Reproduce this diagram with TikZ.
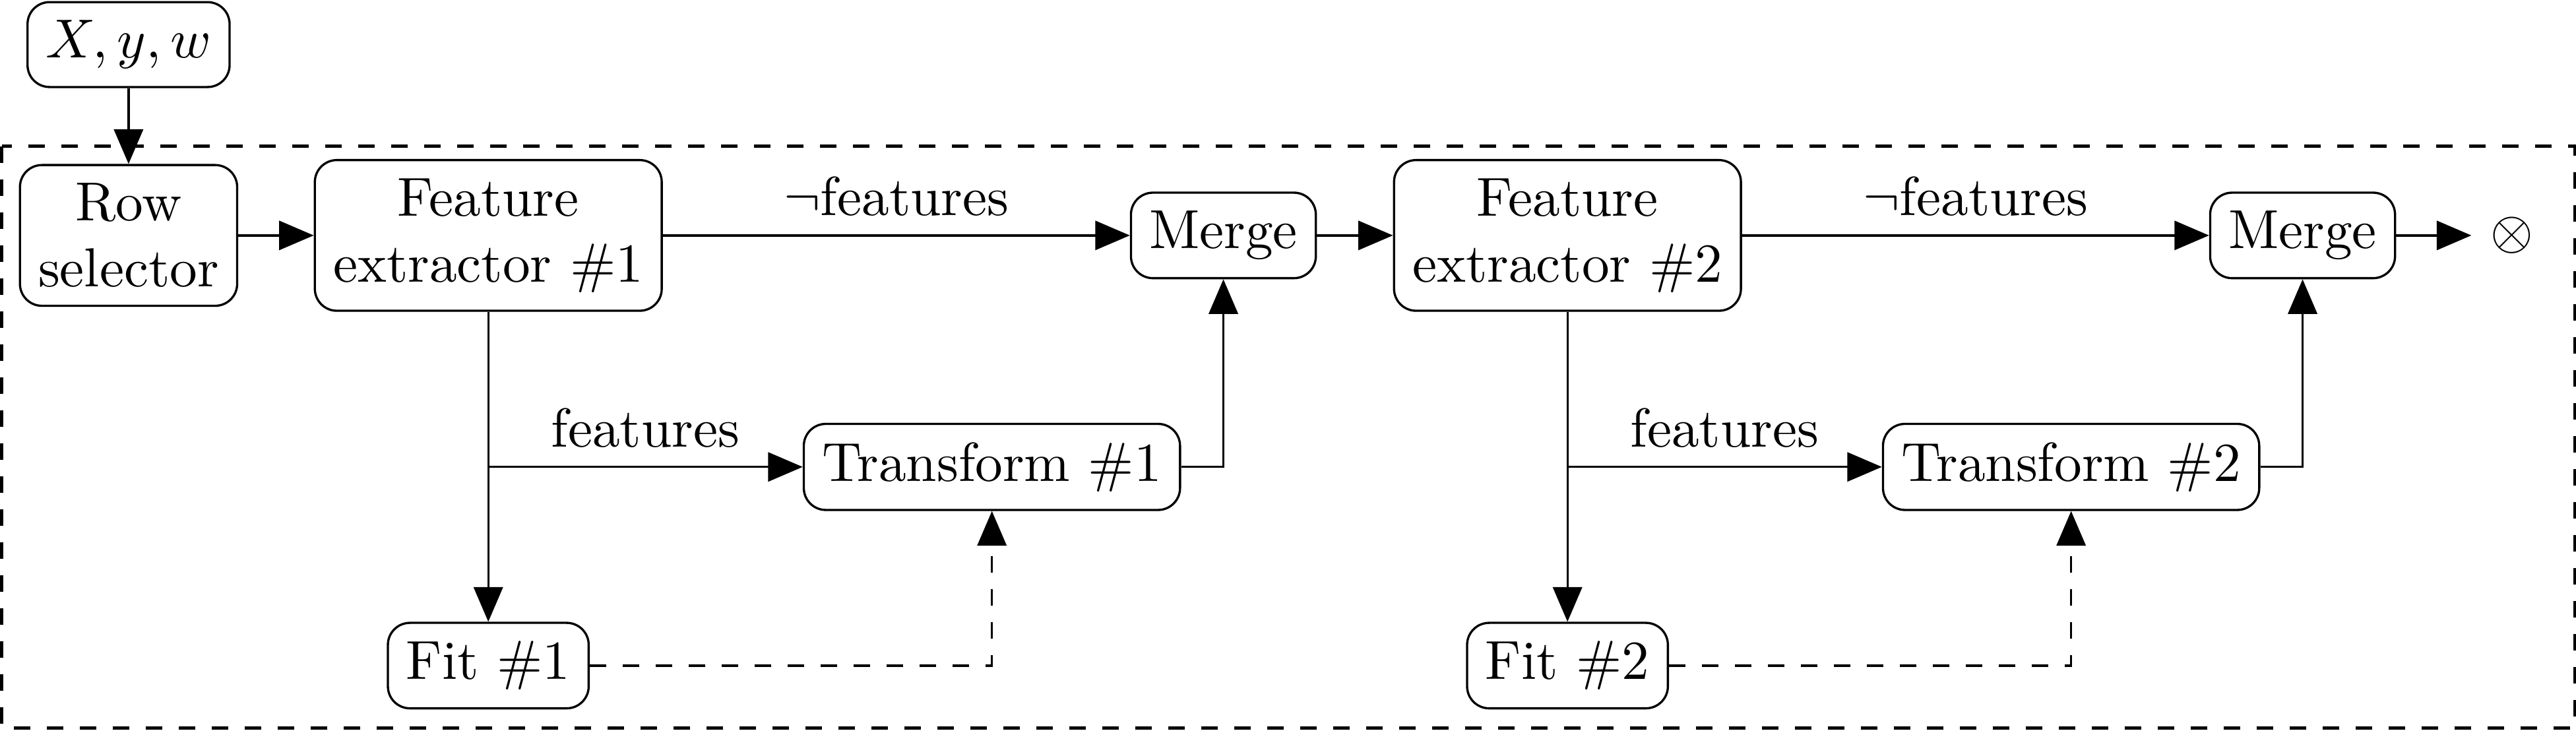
\documentclass[tikz,border=0pt]{standalone}
\usepackage{amsmath}
\usepackage{amssymb}
\usetikzlibrary{arrows.meta}

\tikzset{block/.style={draw, rounded corners, align=center}}

\begin{document}
\begin{tikzpicture}[>={Triangle[length=6.3pt,width=5.3pt]}]

		\useasboundingbox (-0.822,1.505) rectangle (15.648,-3.164);

				\node[block] (A) at (0,1.22)  {$X,y,w$};
				\node[block] (B) at (0,0) {Row\\selector};
				\node[block] (C) at (2.30,0) {Feature\\extractor \#1};
				\node[block] (D) at (7.00,0) {Merge};
				\node[block] (E) at (9.20,0) {Feature\\extractor \#2};
				\node[block] (F) at (13.90,0) {Merge};
				\node (G) at (15.24,0) {$\otimes$};
				\node[block] (H) at (5.52,-1.48) {Transform \#1};
				\node[block] (I) at (12.42,-1.48) {Transform \#2};
				\node[block] (J) at (2.30,-2.75) {Fit \#1};
				\node[block] (K) at (9.20,-2.75) {Fit \#2};
				\coordinate (P) at (2.30,-1.48);
				\coordinate (Q) at (9.20,-1.48);

				\draw [->] (A) to (B);
				\draw [->] (B) to (C);
				\draw [->] (C) to node[above] {$\neg$features} (D);
				\draw [->] (C) to (J);
				\draw [->] (P) to node[above] {features} (H);
				\draw [dashed,->] (J) -| (H);
				\draw [->] (H) -| (D);
				\draw [->] (D) to (E);
				\draw [->] (E) to node[above] {$\neg$features} (F);
				\draw [->] (E) to (K);
				\draw [->] (Q) to node[above] {features} (I);
				\draw [dashed,->] (K) -| (I);
				\draw [->] (I) -| (F);
				\draw [->] (F) to (G);

				% pipeline frame
				\draw [dashed,semithick] (-0.81,0.57) rectangle (15.64,-3.15);

		\end{tikzpicture}
\end{document}
